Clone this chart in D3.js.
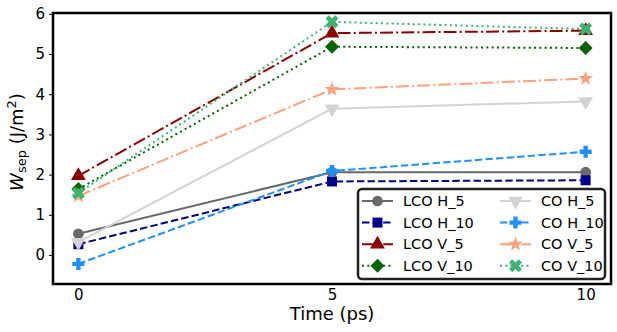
<!DOCTYPE html>
<html lang="en">
<head>
  <meta charset="UTF-8">
  <title>Separation work vs time</title>
  <script src="https://d3js.org/d3.v7.min.js"></script>
  <style>
    body { margin: 0; background: white; font-family: "DejaVu Sans", sans-serif; }
    svg text { fill: #000; font-family: "DejaVu Sans", sans-serif; }
  </style>
</head>
<body>
  <svg id="chart" width="617" height="332"></svg>

  <script>
    // data
    const times = [0, 5, 10];
    const seriesNames = ["LCO H_5", "LCO H_10", "LCO V_5", "LCO V_10", "CO H_5", "CO H_10", "CO V_5", "CO V_10"];
    const lcoH5 = [0.53, 2.06, 2.06];
    const lcoH10 = [0.27, 1.83, 1.86];
    const lcoV5 = [1.97, 5.52, 5.58];
    const lcoV10 = [1.64, 5.18, 5.15];
    const coH5 = [0.32, 3.64, 3.82];
    const coH10 = [-0.22, 2.09, 2.57];
    const coV5 = [1.47, 4.12, 4.39];
    const coV10 = [1.54, 5.8, 5.62];
    const yTicks = [0, 1, 2, 3, 4, 5, 6];
    const xTicks = [0, 5, 10];

    const styles = [
      { color: "#696969", dash: null, marker: "circle" },
      { color: "#00008b", dash: "7.4,3.2", marker: "square" },
      { color: "#8b0000", dash: "12.8,3.2,2,3.2", marker: "triangleUp" },
      { color: "#006400", dash: "2,3.3", marker: "diamond" },
      { color: "#d3d3d3", dash: null, marker: "triangleDown" },
      { color: "#1e90ff", dash: "7.4,3.2", marker: "plus" },
      { color: "#ffa07a", dash: "12.8,3.2,2,3.2", marker: "star" },
      { color: "#3cb371", dash: "2,3.3", marker: "x" }
    ];
    const values = [lcoH5, lcoH10, lcoV5, lcoV10, coH5, coH10, coV5, coV10];
    const series = seriesNames.map((name, i) => ({ name: name, values: values[i], ...styles[i] }));

    const svg = d3.select("#chart");
    const mLeft = 53, mRight = 611, mTop = 13, mBottom = 284;

    const x = d3.scaleLinear().domain([-0.5, 10.5]).range([mLeft, mRight]);
    const y = d3.scaleLinear().domain([-0.72, 6.02]).range([mBottom, mTop]);

    function markerPath(type) {
      switch (type) {
        case "circle": return d3.symbol(d3.symbolCircle, 90)();
        case "square": return d3.symbol(d3.symbolSquare, 100)();
        case "triangleUp": return d3.symbol(d3.symbolTriangle, 95)();
        case "triangleDown": return d3.symbol(d3.symbolTriangle, 95)();
        case "diamond": return "M0,-7L7,0L0,7L-7,0Z";
        case "plus": return "M-2.2,-6H2.2V-2.2H6V2.2H2.2V6H-2.2V2.2H-6V-2.2H-2.2Z";
        case "star": return d3.symbol(d3.symbolStar, 70)();
        case "x": return d3.symbol(d3.symbolCross, 105)();
      }
    }
    function markerRotate(type) {
      if (type === "triangleDown") return " rotate(180)";
      if (type === "x") return " rotate(45)";
      return "";
    }

    // axes
    const xAxis = d3.axisBottom(x).tickValues(xTicks).tickSize(0).tickPadding(5).tickFormat(d3.format("d"));
    svg.append("g")
      .attr("transform", "translate(0," + mBottom + ")")
      .call(xAxis)
      .call(g => g.select(".domain").remove())
      .selectAll("text")
      .style("font-size", "15px")
      .style("font-family", "DejaVu Sans");

    const yAxis = d3.axisLeft(y).tickValues(yTicks).tickSize(4).tickPadding(4).tickFormat(d3.format("d"));
    svg.append("g")
      .attr("transform", "translate(" + mLeft + ",0)")
      .call(yAxis)
      .call(g => g.select(".domain").remove())
      .call(g => g.selectAll(".tick line").attr("stroke", "#000").attr("stroke-width", 1))
      .selectAll("text")
      .style("font-size", "15px")
      .style("font-family", "DejaVu Sans");

    svg.append("text")
      .attr("x", (mLeft + mRight) / 2)
      .attr("y", 320)
      .attr("text-anchor", "middle")
      .style("font-size", "18px")
      .text("Time (ps)");

    const ylab = svg.append("text")
      .attr("transform", "translate(23,142) rotate(-90)")
      .attr("text-anchor", "middle")
      .style("font-size", "18px");
    ylab.append("tspan").style("font-style", "italic").text("W");
    ylab.append("tspan").attr("dy", 3).style("font-size", "13px").text("sep");
    ylab.append("tspan").attr("dy", -3).text(" (J/m");
    ylab.append("tspan").attr("dy", -7).style("font-size", "13px").text("2");
    ylab.append("tspan").attr("dy", 7).text(")");

    // lines and markers
    const line = d3.line().x((d, i) => x(times[i])).y(d => y(d));
    const plot = svg.append("g");

    series.forEach(s => {
      const g = plot.append("g");
      g.append("path")
        .attr("d", line(s.values))
        .attr("fill", "none")
        .attr("stroke", s.color)
        .attr("stroke-width", 2)
        .attr("stroke-dasharray", s.dash);
      g.selectAll("path.m")
        .data(s.values)
        .enter().append("path")
        .attr("class", "m")
        .attr("d", markerPath(s.marker))
        .attr("transform", (d, i) => "translate(" + x(times[i]) + "," + y(d) + ")" + markerRotate(s.marker))
        .attr("fill", s.color);
    });

    // frame
    svg.append("rect")
      .attr("x", mLeft)
      .attr("y", mTop)
      .attr("width", mRight - mLeft)
      .attr("height", mBottom - mTop)
      .attr("fill", "none")
      .attr("stroke", "#000")
      .attr("stroke-width", 2.5);

    // legend
    const lg = svg.append("g");
    lg.append("rect")
      .attr("x", 358)
      .attr("y", 189)
      .attr("width", 247)
      .attr("height", 90)
      .attr("rx", 4)
      .attr("fill", "white")
      .attr("stroke", "#222")
      .attr("stroke-width", 2.5);

    const item = lg.selectAll("g.item")
      .data(series)
      .enter().append("g")
      .attr("class", "item")
      .attr("transform", (d, i) => "translate(" + (i < 4 ? 362 : 500) + "," + (201 + (i % 4) * 21.6) + ")");

    item.append("line")
      .attr("x1", 0).attr("x2", 31)
      .attr("stroke", d => d.color)
      .attr("stroke-width", 2)
      .attr("stroke-dasharray", d => d.dash);
    item.append("path")
      .attr("d", d => markerPath(d.marker))
      .attr("transform", d => "translate(15.5,0)" + markerRotate(d.marker))
      .attr("fill", d => d.color);
    item.append("text")
      .attr("x", 41)
      .attr("dy", "0.36em")
      .style("font-size", "14.5px")
      .text(d => d.name);
  </script>
</body>
</html>
